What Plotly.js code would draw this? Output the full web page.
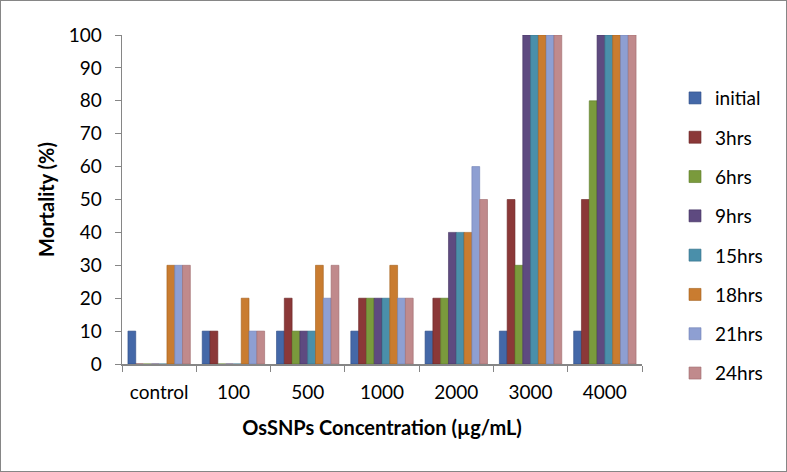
<!DOCTYPE html>
<html>
<head>
<meta charset="utf-8">
<script src="https://cdn.plot.ly/plotly-3.0.1.min.js"></script>
<style>
  html, body { margin: 0; padding: 0; background: #fff; }
  #wrap { position: relative; width: 787px; height: 472px; }
  #chart { width: 787px; height: 472px; }
  #frame { position: absolute; left: 0; top: 0; width: 787px; height: 472px; box-sizing: border-box; border: 1px solid #868686; pointer-events: none; }
</style>
</head>
<body>
<div id="wrap"><div id="chart"></div><div id="frame"></div></div>
<script>
const categories = ["control", "100", "500", "1000", "2000", "3000", "4000"];
const seriesNames = ["initial", "3hrs", "6hrs", "9hrs", "15hrs", "18hrs", "21hrs", "24hrs"];
const initial = [10, 10, 10, 10, 10, 10, 10];
const hrs3    = [0, 10, 20, 20, 20, 50, 50];
const hrs6    = [0, 0, 10, 20, 20, 30, 80];
const hrs9    = [0, 0, 10, 20, 40, 100, 100];
const hrs15   = [0, 0, 10, 20, 40, 100, 100];
const hrs18   = [30, 20, 30, 30, 40, 100, 100];
const hrs21   = [30, 10, 20, 20, 60, 100, 100];
const hrs24   = [30, 10, 30, 20, 50, 100, 100];
const seriesValues = [initial, hrs3, hrs6, hrs9, hrs15, hrs18, hrs21, hrs24];
const colors = ["#4468A8", "#8B3838", "#7A9A3C", "#5E4A80", "#4A8FAA", "#C97C30", "#8E9FD2", "#C08A8C"];
const lineColors = ["#2E4C85", "#692525", "#5B7A26", "#43325F", "#326F88", "#A35F1C", "#6F80B5", "#9E6A6C"];

const font = "Lato, 'Open Sans', sans-serif";

const traces = seriesNames.map((name, i) => ({
  type: "bar",
  name: name,
  x: categories,
  y: seriesValues[i],
  legendgroup: name,
  marker: { color: colors[i], line: { color: lineColors[i], width: 0.6 } },
  hoverinfo: "x+y+name"
}));

const layout = {
  width: 787,
  height: 472,
  margin: { l: 122, r: 145, t: 35, b: 108 },
  paper_bgcolor: "#ffffff",
  plot_bgcolor: "#ffffff",
  barmode: "group",
  bargap: 0.16,
  bargroupgap: 0,
  font: { family: font, size: 19, color: "#000" },
  showlegend: true,
  legend: {
    x: 1.0635, y: 0.866, xanchor: "left", yanchor: "top",
    font: { family: font, size: 19, color: "#000" },
    tracegroupgap: 11.6,
    itemwidth: 30,
    bgcolor: "rgba(0,0,0,0)"
  },
  xaxis: {
    type: "category",
    tickson: "boundaries",
    ticks: "outside",
    ticklen: 6,
    tickcolor: "#868686",
    showline: true,
    linecolor: "#868686",
    linewidth: 1.5,
    showgrid: false,
    ticklabelstandoff: 11,
    tickfont: { family: font, size: 19 },
    title: { text: "<b>OsSNPs Concentration (µg/mL)</b>", font: { family: font, size: 20 }, standoff: 18 }
  },
  yaxis: {
    range: [0, 100],
    dtick: 10,
    ticks: "outside",
    ticklen: 6,
    tickcolor: "#868686",
    showline: true,
    linecolor: "#868686",
    linewidth: 1.5,
    showgrid: false,
    zeroline: false,
    ticklabelstandoff: 9,
    tickfont: { family: font, size: 19 },
    title: { text: "<b>Mortality (%)</b>", font: { family: font, size: 20 }, standoff: 8 }
  }
};

Plotly.newPlot("chart", traces, layout, { displayModeBar: false, staticPlot: true });
</script>
</body>
</html>
